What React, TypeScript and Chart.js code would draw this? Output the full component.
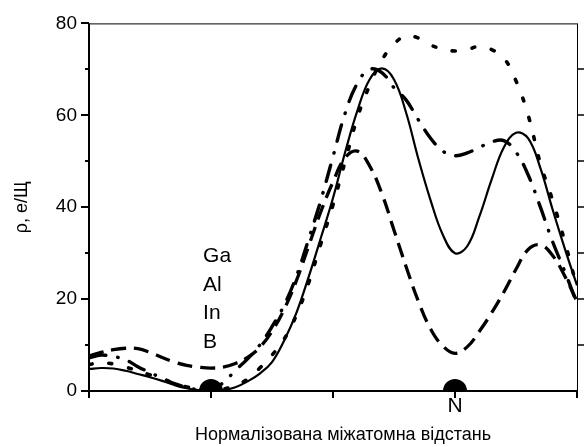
import React, { useEffect, useRef } from 'react';
import { Chart, registerables } from 'chart.js';

Chart.register(...registerables);

// Normalised interatomic distance (0 … 4, atoms at 1 and 3)
const xPositions = [
  0, 0.1, 0.2, 0.3, 0.4, 0.5, 0.6, 0.7, 0.8, 0.9,
  1, 1.1, 1.2, 1.3, 1.4, 1.5, 1.6, 1.7, 1.8, 1.9,
  2, 2.1, 2.2, 2.3, 2.4, 2.5, 2.6, 2.7, 2.8, 2.9,
  3, 3.1, 3.2, 3.3, 3.4, 3.5, 3.6, 3.7, 3.8, 3.9, 4,
];

// ρ values for the four curves
const solidSeries = [
  4.8, 5.0, 4.9, 4.4, 3.7, 3.0, 2.2, 1.3, 0.6, 0.2,
  0.0, 0.2, 0.8, 2.1, 3.8, 6.3, 11.0, 17.0, 24.8, 33.3,
  42.0, 52.0, 61.0, 67.8, 70.2, 67.8, 60.5, 50.5, 41.5, 34.0,
  30.0, 31.5, 38.0, 46.0, 53.0, 56.2, 55.0, 48.5, 39.5, 31.0, 23.0,
];
const dashedSeries = [
  7.6, 8.4, 9.0, 9.3, 9.2, 8.4, 7.3, 6.3, 5.6, 5.2,
  5.0, 5.2, 6.0, 7.3, 9.5, 13.0, 17.8, 24.0, 31.5, 39.0,
  45.5, 50.8, 52.2, 49.0, 43.0, 35.0, 27.0, 19.5, 13.5, 9.8,
  8.2, 9.6, 13.0, 17.0, 21.5, 26.5, 30.8, 31.8, 29.5, 25.0, 19.5,
];
const dottedSeries = [
  5.8, 6.1, 5.9, 5.2, 4.4, 3.5, 2.6, 1.7, 0.9, 0.3,
  0.1, 0.4, 1.2, 2.6, 5.0, 7.8, 11.3, 16.5, 23.5, 32.0,
  40.5, 50.0, 59.5, 66.5, 72.0, 75.5, 77.3, 76.8, 75.3, 74.4,
  74.0, 74.3, 75.0, 74.3, 72.5, 67.5, 60.0, 49.5, 41.5, 32.5, 22.5,
];
const dashDotSeries = [
  7.2, 7.8, 7.5, 6.8, 5.3, 4.0, 2.8, 1.6, 0.8, 0.3,
  0.4, 1.8, 4.5, 7.0, 10.0, 14.0, 18.7, 25.0, 33.0, 41.5,
  51.0, 60.5, 67.0, 70.0, 69.3, 66.0, 63.3, 59.0, 55.0, 52.2,
  51.2, 51.8, 53.0, 54.2, 54.5, 52.0, 47.0, 40.0, 32.5, 26.0, 19.0,
];

const elementLabels = ['Ga', 'Al', 'In', 'B'];
const elementLabelX = 0.935;
const elementLabelY = [29.4, 23.0, 16.9, 10.7];

const atomPositions = [1, 3];

const yMajorTicks = [0, 20, 40, 60, 80];
const yMinorTicks = [10, 30, 50, 70];
const xTicks = [0, 1, 2, 3, 4];
const xTickLabelValues = [3];
const xTickLabelTexts = ['N'];

const yTitle = 'ρ, е/Щ';
const xTitle = 'Нормалізована міжатомна відстань';

const FONT = '"Liberation Sans", Arial, sans-serif';

const toPoints = (ys: number[]) => ys.map((v, i) => ({ x: xPositions[i], y: v }));

const decorPlugin = {
  id: 'decor',
  afterDatasetsDraw(chart: any) {
    const { ctx, chartArea: a, scales } = chart;
    const x = scales.x;
    const y = scales.y;
    // atoms (half circles on the axis)
    ctx.save();
    ctx.beginPath();
    ctx.rect(a.left, a.top, a.right - a.left, a.bottom - a.top);
    ctx.clip();
    ctx.fillStyle = '#000';
    atomPositions.forEach((v) => {
      ctx.beginPath();
      ctx.arc(x.getPixelForValue(v), y.getPixelForValue(0), 12, 0, Math.PI * 2);
      ctx.fill();
    });
    ctx.restore();

    ctx.save();
    ctx.strokeStyle = '#000';
    // top & right thin frame
    ctx.lineWidth = 1;
    ctx.beginPath();
    ctx.moveTo(a.left, a.top + 0.5);
    ctx.lineTo(a.right, a.top + 0.5);
    ctx.moveTo(a.right + 0.5, a.top);
    ctx.lineTo(a.right + 0.5, a.bottom);
    ctx.stroke();
    // right ticks
    ctx.lineWidth = 1.5;
    [...yMinorTicks, 20, 40, 60].forEach((v) => {
      const py = Math.round(y.getPixelForValue(v));
      ctx.beginPath();
      ctx.moveTo(a.right, py);
      ctx.lineTo(a.right + 7, py);
      ctx.stroke();
    });
    // left & bottom thick axes
    ctx.lineWidth = 2;
    ctx.beginPath();
    ctx.moveTo(a.left, a.top);
    ctx.lineTo(a.left, a.bottom + 1);
    ctx.moveTo(a.left - 1, a.bottom);
    ctx.lineTo(a.right + 1, a.bottom);
    ctx.stroke();
    // left ticks
    yMajorTicks.forEach((v) => {
      const py = Math.round(y.getPixelForValue(v));
      ctx.beginPath();
      ctx.moveTo(a.left - 8, py);
      ctx.lineTo(a.left, py);
      ctx.stroke();
    });
    yMinorTicks.forEach((v) => {
      const py = Math.round(y.getPixelForValue(v));
      ctx.beginPath();
      ctx.moveTo(a.left - 4, py);
      ctx.lineTo(a.left, py);
      ctx.stroke();
    });
    // bottom ticks
    xTicks.forEach((v) => {
      const px = Math.round(x.getPixelForValue(v));
      ctx.beginPath();
      ctx.moveTo(px, a.bottom);
      ctx.lineTo(px, a.bottom + 7);
      ctx.stroke();
    });

    // element labels
    ctx.fillStyle = '#000';
    ctx.font = `21px ${FONT}`;
    ctx.textAlign = 'left';
    ctx.textBaseline = 'middle';
    elementLabels.forEach((t, i) => {
      ctx.fillText(t, x.getPixelForValue(elementLabelX), y.getPixelForValue(elementLabelY[i]));
    });

    // x axis title
    ctx.font = `18px ${FONT}`;
    ctx.textAlign = 'center';
    ctx.fillText(xTitle, (a.left + a.right) / 2 + 10, 435);
    ctx.restore();
  },
};

export default function App() {
  const ref = useRef<HTMLCanvasElement | null>(null);

  useEffect(() => {
    document.body.style.margin = '0';
    const canvas = ref.current;
    if (!canvas) return;
    const common = {
      borderColor: '#000',
      backgroundColor: '#000',
      pointRadius: 0,
      pointHoverRadius: 0,
      fill: false,
      tension: 0.4,
    };
    const chart = new Chart(canvas, {
      type: 'line',
      data: {
        datasets: [
          { ...common, label: 'solid', data: toPoints(solidSeries), borderWidth: 2.2 },
          {
            ...common, label: 'dashed', data: toPoints(dashedSeries), borderWidth: 3.3,
            borderDash: [15, 8],
          },
          {
            ...common, label: 'dotted', data: toPoints(dottedSeries), borderWidth: 3.6,
            borderDash: [3, 17], borderCapStyle: 'round',
          },
          {
            ...common, label: 'dashdot', data: toPoints(dashDotSeries), borderWidth: 3.4,
            borderDash: [17, 12, 0.5, 12], borderCapStyle: 'round',
          },
        ],
      },
      options: {
        responsive: false,
        animation: false,
        events: [],
        layout: { padding: { top: 20, left: 0, right: 0, bottom: 0 } },
        plugins: {
          legend: { display: false },
          tooltip: { enabled: false },
        },
        scales: {
          x: {
            type: 'linear',
            min: 0,
            max: 4,
            afterFit: (s: any) => { s.height = 56; },
            afterBuildTicks: (s: any) => { s.ticks = xTicks.map((v) => ({ value: v })); },
            grid: { display: false, drawTicks: false },
            border: { display: false },
            ticks: {
              autoSkip: false,
              maxRotation: 0,
              padding: 3,
              color: '#000',
              font: { family: FONT, size: 21 },
              callback: (v: any) => {
                const i = xTickLabelValues.indexOf(Number(v));
                return i >= 0 ? xTickLabelTexts[i] : '';
              },
            },
          },
          y: {
            type: 'linear',
            min: 0,
            max: 80,
            afterFit: (s: any) => { s.width = 89; },
            afterBuildTicks: (s: any) => { s.ticks = yMajorTicks.map((v) => ({ value: v })); },
            grid: { display: false, drawTicks: false },
            border: { display: false },
            ticks: {
              padding: 12,
              color: '#000',
              font: { family: FONT, size: 19 },
            },
            title: {
              display: true,
              text: yTitle,
              color: '#000',
              font: { family: FONT, size: 18 },
              padding: { top: 11, bottom: 0 },
            },
          },
          y2: {
            type: 'linear',
            position: 'right',
            min: 0,
            max: 80,
            afterFit: (s: any) => { s.width = 7; },
            grid: { display: false, drawTicks: false },
            border: { display: false },
            ticks: { display: false },
          },
        },
      },
      plugins: [decorPlugin],
    });
    return () => chart.destroy();
  }, []);

  return (
    <div style={{ position: 'absolute', left: 0, top: 0, width: 584, height: 447 }}>
      <canvas ref={ref} width={584} height={447} style={{ width: 584, height: 447, display: 'block' }} />
    </div>
  );
}
